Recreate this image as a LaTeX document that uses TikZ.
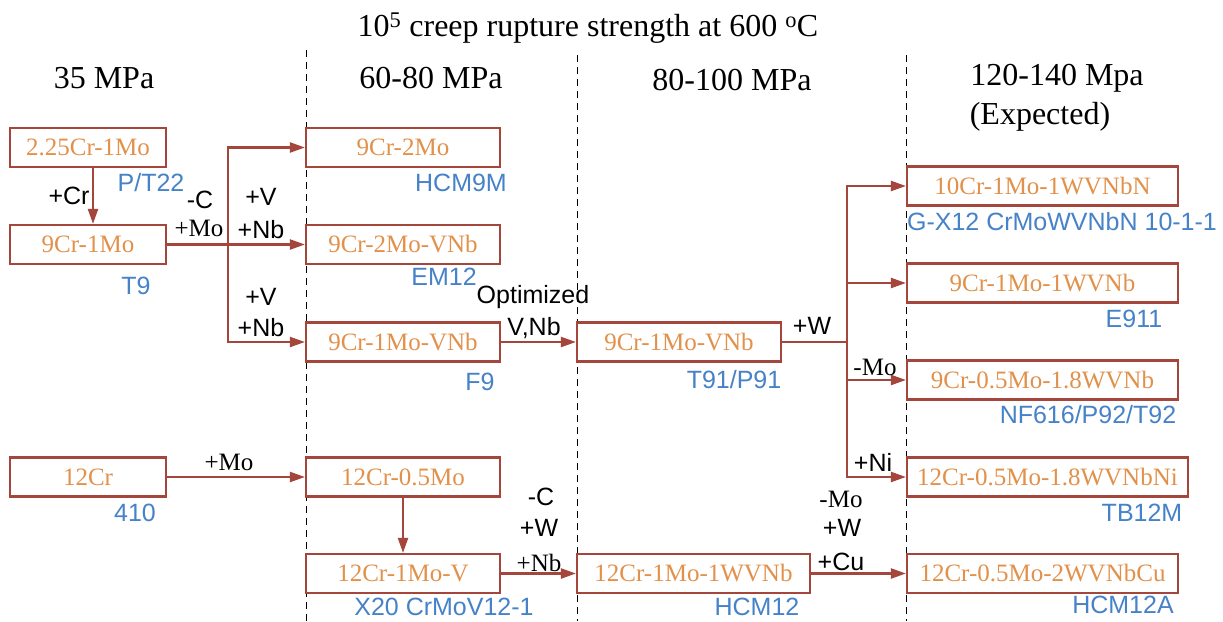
\documentclass[tikz,border=0pt]{standalone}
\usepackage{fontspec}
\setmainfont{Liberation Serif}
\newfontfamily\arialf{Liberation Sans}
\usetikzlibrary{arrows.meta}
\definecolor{boxc}{RGB}{165,70,60}
\definecolor{orangec}{RGB}{226,145,75}
\definecolor{bluec}{RGB}{70,130,200}
\tikzset{
  alloy/.style={draw=boxc, line width=2.2pt, rectangle, minimum height=39pt, inner sep=0pt, text=orangec, font=\fontsize{25}{30}\selectfont},
  grade/.style={inner sep=0pt, text=bluec, font=\arialf\fontsize{25}{30}\selectfont},
  addl/.style={inner sep=0pt, text=black, font=\arialf\fontsize{25}{30}\selectfont},
  addr/.style={inner sep=0pt, text=black, font=\fontsize{25}{30}\selectfont},
  hdr/.style={inner sep=0pt, text=black, font=\fontsize{32}{38}\selectfont},
  arr/.style={draw=boxc, line width=2.2pt, -{Triangle[length=15pt,width=10pt]}},
  ln/.style={draw=boxc, line width=2.2pt},
  sep/.style={draw=black, line width=0.9pt, dash pattern=on 7pt off 5pt}
}
\begin{document}
\begin{tikzpicture}[x=1pt,y=-1pt]
\useasboundingbox (0,0) rectangle (1223,621);
\fill[white] (0,0) rectangle (1223,621);
% separators
\draw[sep] (306,50) -- (306,621);
\draw[sep] (577,55) -- (577,621);
\draw[sep] (906,55) -- (906,621);
% headers
\node[hdr] (title) at (588,28) {10\textsuperscript{5} creep rupture strength at 600 \textsuperscript{o}C};
\node[hdr] (h1) at (104,78) {35 MPa};
\node[hdr] (h2) at (431,78) {60-80 MPa};
\node[hdr] (h3) at (732,80) {80-100 MPa};
\node[hdr] (h4) at (1057,78) {120-140 Mpa};
\node[hdr] (h5) at (1040,117) {(Expected)};
% boxes
\node[alloy, minimum width=156pt] (A) at (88,147.5) {2.25Cr-1Mo};
\node[alloy, minimum width=156pt] (B) at (88,244.5) {9Cr-1Mo};
\node[alloy, minimum width=156pt] (C) at (88,477) {12Cr};
\node[alloy, minimum width=194pt] (D) at (403,147.5) {9Cr-2Mo};
\node[alloy, minimum width=194pt] (E) at (403,244.5) {9Cr-2Mo-VNb};
\node[alloy, minimum width=194pt] (F) at (403,342) {9Cr-1Mo-VNb};
\node[alloy, minimum width=194pt] (G) at (403,477) {12Cr-0.5Mo};
\node[alloy, minimum width=194pt] (H) at (403,573.5) {12Cr-1Mo-V};
\node[alloy, minimum width=204pt] (I) at (679,342) {9Cr-1Mo-VNb};
\node[alloy, minimum width=233pt] (J) at (693.5,573.5) {12Cr-1Mo-1WVNb};
\node[alloy, minimum width=271pt] (K) at (1042.5,186) {10Cr-1Mo-1WVNbN};
\node[alloy, minimum width=271pt] (L) at (1042.5,283) {9Cr-1Mo-1WVNb};
\node[alloy, minimum width=271pt] (M) at (1042.5,380) {9Cr-0.5Mo-1.8WVNb};
\node[alloy, minimum width=281pt] (N) at (1047.5,477) {12Cr-0.5Mo-1.8WVNbNi};
\node[alloy, minimum width=271pt] (O) at (1042.5,573.5) {12Cr-0.5Mo-2WVNbCu};
% grade names
\node[grade] (gA) at (151,183) {P/T22};
\node[grade] (gB) at (136,286) {T9};
\node[grade] (gC) at (135,513) {410};
\node[grade] (gD) at (461,183) {HCM9M};
\node[grade] (gE) at (444,277) {EM12};
\node[grade] (gF) at (480,382) {F9};
\node[grade] (gH) at (444,607) {X20 CrMoV12-1};
\node[grade] (gI) at (734,380) {T91/P91};
\node[grade] (gJ) at (757,607) {HCM12};
\node[grade] (gK) at (1062,222) {G-X12 CrMoWVNbN 10-1-1};
\node[grade] (gL) at (1134,319) {E911};
\node[grade] (gM) at (1088,415) {NF616/P92/T92};
\node[grade] (gN) at (1142,513) {TB12M};
\node[grade] (gO) at (1123,605) {HCM12A};
% connectors
\coordinate (j1) at (228,244.5);
\coordinate (j2) at (847,342);
\draw[arr] ([xshift=5pt]A.south) -- ([xshift=5pt]B.north);
\draw[arr] (B.east) -- (E.west);
\draw[arr] (j1) |- (D.west);
\draw[arr] (j1) |- (F.west);
\draw[arr] (F.east) -- (I.west);
\draw[arr] (C.east) -- (G.west);
\draw[arr] (G.south) -- (H.north);
\draw[arr] (H.east) -- (J.west);
\draw[ln] (I.east) -- (j2);
\draw[arr] (j2) |- (K.west);
\draw[arr] (j2) |- (L.west);
\draw[arr] (j2) |- (M.west);
\draw[arr] (j2) |- (N.west);
\draw[arr] (J.east) -- (O.west);
% connector labels
\node[addl] (lCr) at (69,196) {+Cr};
\node[addl] (lC1) at (200,200) {-C};
\node[addr] (lMo1) at (199,228) {+Mo};
\node[addl] (lV1) at (261,197) {+V};
\node[addl] (lNb1) at (261,230) {+Nb};
\node[addl] (lV2) at (261,297) {+V};
\node[addl] (lNb2) at (261,328) {+Nb};
\node[addl] (lOpt) at (533,297) {Optimized};
\node[addl] (lVNb) at (534,328) {V,Nb};
\node[addr] (lMo2) at (229,462) {+Mo};
\node[addl] (lC2) at (541,497) {-C};
\node[addl] (lW2) at (539,528) {+W};
\node[addr] (lNb3) at (539,563) {+Nb};
\node[addl] (lW1) at (812,326) {+W};
\node[addr] (lMo3) at (875,367) {-Mo};
\node[addl] (lNi) at (873,462) {+Ni};
\node[addr] (lMo4) at (841,499) {-Mo};
\node[addl] (lW3) at (842,528) {+W};
\node[addl] (lCu) at (841,562) {+Cu};
\end{tikzpicture}
\end{document}
